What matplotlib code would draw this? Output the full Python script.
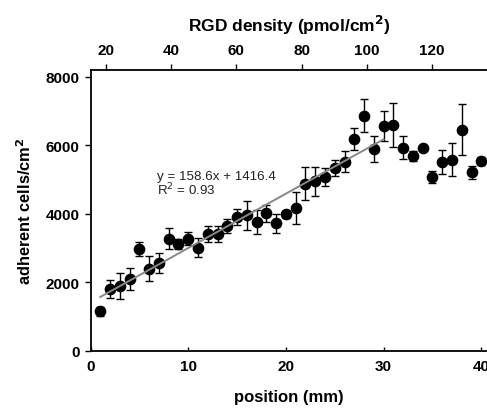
import matplotlib
matplotlib.use("Agg")
import matplotlib.pyplot as plt
import numpy as np

plt.rcParams['font.family'] = ['Liberation Sans', 'DejaVu Sans']

position = list(range(1, 41))
cells = [1154, 1802, 1899, 2093, 2985, 2403, 2578, 3275, 3110, 3275,
         3013, 3410, 3401, 3643, 3915, 3953, 3760, 4012, 3721, 3983,
         4176, 4884, 4952, 5078, 5339, 5514, 6192, 6860, 5892, 6570,
         6579, 5921, 5698, 5921, 5078, 5514, 5581, 6453, 5213, 5533]
err = [120, 260, 378, 320, 200, 375, 290, 310, 145, 195,
       280, 240, 230, 210, 240, 420, 355, 260, 275, 100,
       470, 470, 420, 265, 240, 305, 325, 475, 380, 435,
       640, 335, 145, 0, 180, 340, 490, 740, 195, 110]
fit_slope = 158.6
fit_intercept = 1416.4
fit_range = [1, 30]
fit_label = "y = 158.6x + 1416.4\nR$^2$ = 0.93"
density_slope = 3.0
density_offset = 15.2
x_ticks = [0, 10, 20, 30, 40]
y_ticks = [0, 2000, 4000, 6000, 8000]
top_ticks = [20, 40, 60, 80, 100, 120]

W, H = 487, 410
fig = plt.figure(figsize=(W / 100, H / 100), dpi=100)
ax = fig.add_axes([90.5 / W, 58 / H, (W - 90.5) / W, (352 - 70.7) / H])

ax.errorbar(position, cells, yerr=err, fmt='o', color='black', ms=7.4,
            ecolor='black', elinewidth=1.0, capsize=3, capthick=1.0, zorder=3)
fx = np.array(fit_range, dtype=float)
ax.plot(fx, fit_slope * fx + fit_intercept, color='#888888', lw=1.4, zorder=4)
ax.text(6.8, 4880, fit_label, fontsize=9.6, color='#222222', va='center',
        ha='left', linespacing=0.9)

ax.set_xlim(0, (W - 90.5) / 9.77)
ax.set_ylim(0, 8000 + (77.7 - 70.7) / 0.0344)
ax.set_xticks(x_ticks)
ax.set_yticks(y_ticks)
for lab in ax.get_xticklabels() + ax.get_yticklabels():
    lab.set_fontweight('bold')
ax.tick_params(axis='x', direction='in', length=3, width=1, labelsize=11, pad=6)
ax.tick_params(axis='y', direction='out', length=4, width=1, labelsize=11, pad=4)
ax.spines['right'].set_visible(False)
for s in ['left', 'bottom', 'top']:
    ax.spines[s].set_linewidth(1.3)
ax.spines['top'].set_visible(False)

ax.set_xlabel('position (mm)', fontsize=12, fontweight='bold', labelpad=11)
ax.set_ylabel('adherent cells/cm$^\\mathbf{2}$', fontsize=11.8, fontweight='bold', labelpad=8)

sec = ax.secondary_xaxis('top', functions=(lambda p: density_slope * p + density_offset,
                                          lambda d: (d - density_offset) / density_slope))
sec.set_xticks(top_ticks)
for lab in sec.get_xticklabels():
    lab.set_fontweight('bold')
sec.tick_params(direction='out', length=4, width=1, labelsize=11, pad=5)
sec.spines['top'].set_linewidth(1.3)
sec.set_xlabel('RGD density (pmol/cm$^\\mathbf{2}$)', fontsize=12.5, fontweight='bold', labelpad=9)

fig.savefig('out.png', dpi=100)
